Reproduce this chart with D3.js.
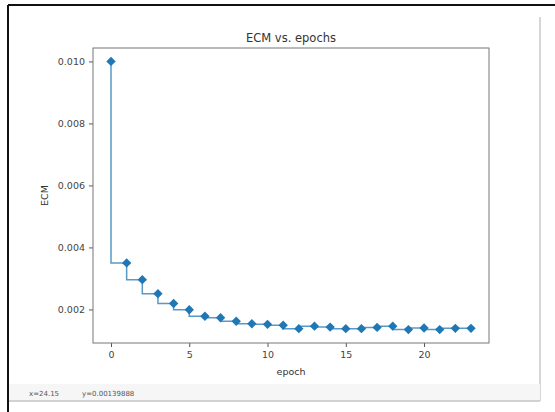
<!DOCTYPE html>
<html>
<head>
<meta charset="utf-8">
<script src="https://cdn.jsdelivr.net/npm/d3@7"></script>
<style>
  body { margin: 0; background: #fff; }
  svg { display: block; font-family: "DejaVu Sans", sans-serif; }
</style>
</head>
<body>
<svg id="chart" width="555" height="412"></svg>
<script>
// --- data ---
var epochs = d3.range(0, 24);
var ecm = [0.0100, 0.00350, 0.00296, 0.00251, 0.00219, 0.00199, 0.00178, 0.00173,
           0.00162, 0.00154, 0.00152, 0.00149, 0.00138, 0.00146, 0.00143, 0.00138,
           0.00138, 0.00142, 0.00146, 0.00135, 0.00140, 0.00135, 0.00139, 0.00139];
var xTicks = [0, 5, 10, 15, 20];
var yTicks = [0.002, 0.004, 0.006, 0.008, 0.010];

var svg = d3.select("#chart");
var blue = "#1f77b4";

// window frame
svg.append("line").attr("x1", 8).attr("x2", 555).attr("y1", 5).attr("y2", 5)
    .attr("stroke", "#111").attr("stroke-width", 2);
svg.append("line").attr("x1", 8).attr("x2", 8).attr("y1", 5).attr("y2", 412)
    .attr("stroke", "#111").attr("stroke-width", 2);
svg.append("line").attr("x1", 540).attr("x2", 540).attr("y1", 17).attr("y2", 401)
    .attr("stroke", "#c8c8c8").attr("stroke-width", 1.5);
svg.append("rect").attr("x", 9).attr("y", 384).attr("width", 531).attr("height", 17)
    .attr("fill", "#f6f6f6");
svg.append("line").attr("x1", 9).attr("x2", 540).attr("y1", 401).attr("y2", 401)
    .attr("stroke", "#c4c4c4").attr("stroke-width", 1.5);
svg.append("text").attr("x", 29).attr("y", 396).attr("font-size", 7).attr("fill", "#555")
    .text("x=24.15");
svg.append("text").attr("x", 82).attr("y", 396).attr("font-size", 7).attr("fill", "#555")
    .text("y=0.00139888");

// plot area
var L = 93, R = 489, T = 48, B = 343;
var xPad = (d3.max(epochs) - d3.min(epochs)) * 0.05;
var yPad = (d3.max(ecm) - d3.min(ecm)) * 0.05;
var x = d3.scaleLinear().domain([d3.min(epochs) - xPad, d3.max(epochs) + xPad]).range([L, R]);
var y = d3.scaleLinear().domain([d3.min(ecm) - yPad, d3.max(ecm) + yPad]).range([B, T]);

var pts = epochs.map(function(e, i) { return { x: e, y: ecm[i] }; });

var line = d3.line()
    .x(function(d) { return x(d.x); })
    .y(function(d) { return y(d.y); })
    .curve(d3.curveStepBefore);

svg.append("path")
    .attr("d", line(pts))
    .attr("fill", "none")
    .attr("stroke", blue)
    .attr("stroke-opacity", 0.75)
    .attr("stroke-width", 1.5);

// filled diamond markers (square turned 45 degrees)
svg.selectAll(".pt").data(pts).enter().append("path")
    .attr("class", "pt")
    .attr("transform", function(d) {
        return "translate(" + x(d.x) + "," + y(d.y) + ") rotate(45)";
    })
    .attr("d", d3.symbol().type(d3.symbolSquare).size(44))
    .attr("fill", blue);

// axes
var xAxis = svg.append("g").attr("transform", "translate(0," + B + ")")
    .call(d3.axisBottom(x).tickValues(xTicks).tickSize(4).tickPadding(4).tickFormat(d3.format("d")));
var yAxis = svg.append("g").attr("transform", "translate(" + L + ",0)")
    .call(d3.axisLeft(y).tickValues(yTicks).tickSize(4).tickPadding(4).tickFormat(d3.format(".3f")));
[xAxis, yAxis].forEach(function(a) {
    a.select(".domain").remove();
    a.selectAll("line").attr("stroke", "#555");
    a.selectAll("text").attr("font-size", 9.5).attr("fill", "#444")
        .attr("font-family", "DejaVu Sans, sans-serif");
});

svg.append("rect").attr("x", L).attr("y", T).attr("width", R - L).attr("height", B - T)
    .attr("fill", "none").attr("stroke", "#777").attr("stroke-width", 1);

// labels
svg.append("text").attr("x", (L + R) / 2).attr("y", 42).attr("text-anchor", "middle")
    .attr("font-size", 11.5).attr("fill", "#333").text("ECM vs. epochs");
svg.append("text").attr("x", (L + R) / 2).attr("y", 375).attr("text-anchor", "middle")
    .attr("font-size", 9.5).attr("fill", "#333").text("epoch");
svg.append("text").attr("transform", "translate(48," + ((T + B) / 2) + ") rotate(-90)")
    .attr("text-anchor", "middle").attr("font-size", 9.5).attr("fill", "#333").text("ECM");
</script>
</body>
</html>
